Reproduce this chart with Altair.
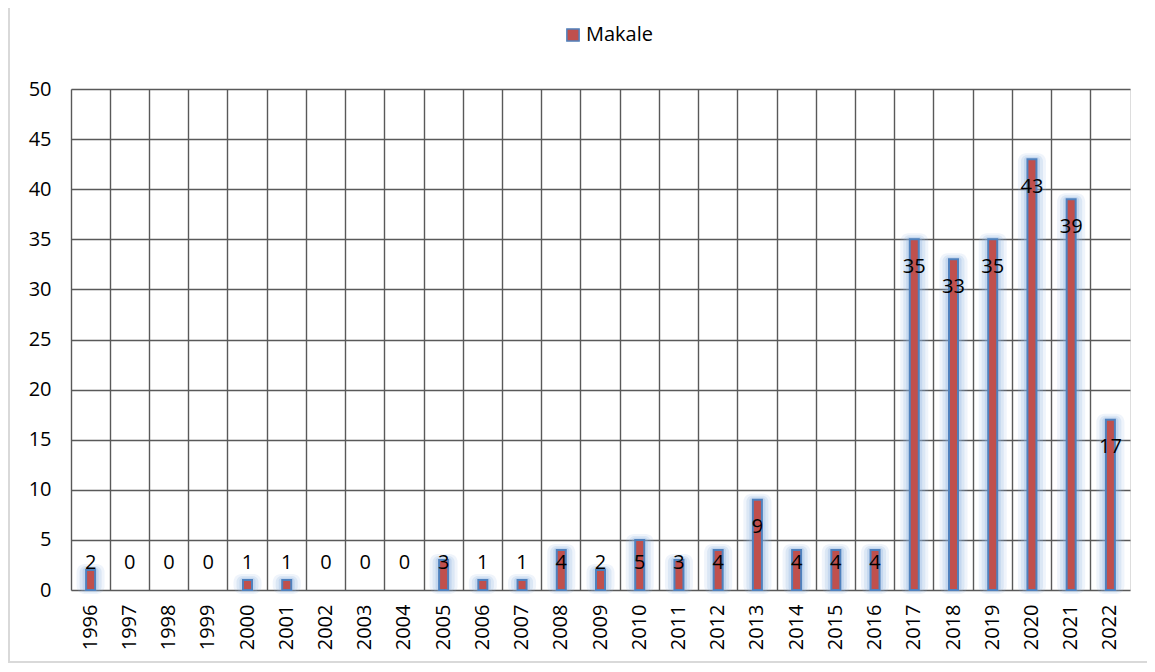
import altair as alt
import pandas as pd

years = [str(y) for y in range(1996, 2023)]
values = [2, 0, 0, 0, 1, 1, 0, 0, 0, 3, 1, 1, 4, 2, 5, 3, 4, 9, 4, 4, 4, 35, 33, 35, 43, 39, 17]
series_name = "Makale"
y_ticks = list(range(0, 51, 5))

df = pd.DataFrame({"year": years, "value": values, "series": series_name})

FONT = "Open Sans"
GRID = "#595959"
RED = "#C0504D"
BLUE = "#4F81BD"
GLOW = "#8DB3E2"
FS = 20

x_enc = alt.X(
    "year:N",
    sort=years,
    scale=alt.Scale(paddingInner=0, paddingOuter=0),
    axis=alt.Axis(
        title=None, labelAngle=-90, labelAlign="right", labelBaseline="middle",
        labelPadding=14, ticks=False, domain=False, grid=True, bandPosition=0,
        gridColor=GRID, gridWidth=1.4, labelFont=FONT, labelFontSize=FS,
        labelColor="#000000",
    ),
)
y_scale = alt.Scale(domain=[0, 50], nice=False)
y_axis = alt.Axis(
    title=None, values=y_ticks, ticks=False, domain=False, grid=True,
    gridColor=GRID, gridWidth=1.4, labelPadding=20, labelFont=FONT,
    labelFontSize=FS, labelColor="#000000",
)

base = alt.Chart(df)
nz = base.transform_filter("datum.value > 0")

glow1 = nz.transform_calculate(top="datum.value + 0.6").mark_bar(
    size=28, color=GLOW, opacity=0.14, cornerRadius=8
).encode(x=x_enc, y=alt.Y("top:Q", scale=y_scale, axis=y_axis), y2=alt.datum(-0.4))
glow2 = nz.transform_calculate(top="datum.value + 0.4").mark_bar(
    size=22, color=GLOW, opacity=0.2, cornerRadius=6
).encode(x=x_enc, y=alt.Y("top:Q", scale=y_scale, axis=y_axis), y2=alt.datum(-0.25))
glow3 = nz.transform_calculate(top="datum.value + 0.22").mark_bar(
    size=16, color=GLOW, opacity=0.3, cornerRadius=3
).encode(x=x_enc, y=alt.Y("top:Q", scale=y_scale, axis=y_axis), y2=alt.datum(-0.08))

bars = nz.mark_bar(size=9, stroke=BLUE, strokeWidth=2).encode(
    x=x_enc,
    y=alt.Y("value:Q", scale=y_scale, axis=y_axis),
    color=alt.Color(
        "series:N",
        scale=alt.Scale(domain=[series_name], range=[RED]),
        legend=alt.Legend(
            title=None, orient="none", legendX=492, legendY=-64,
            symbolType="square", symbolSize=150, symbolStrokeColor=BLUE,
            symbolStrokeWidth=1.5, labelFont=FONT, labelFontSize=FS,
            labelColor="#000000", padding=0, labelOffset=3,
        ),
    ),
)

labels = base.transform_calculate(
    lpos="max(datum.value - 2.75, 2.65)"
).mark_text(font=FONT, fontSize=FS, color="#000000", baseline="middle", align="center").encode(
    x=x_enc,
    y=alt.Y("lpos:Q", scale=y_scale, axis=y_axis),
    text=alt.Text("value:Q"),
)

border = alt.Chart(pd.DataFrame({"a": [0]})).mark_rect(
    fill=None, stroke="#D9D9D9", strokeWidth=2, clip=False
).encode(
    x=alt.value(-62), x2=alt.value(1200), y=alt.value(-200), y2=alt.value(573)
)

chart = alt.layer(border, glow1, glow2, glow3, bars, labels).properties(
    width=1059, height=501,
    autosize=alt.AutoSizeParams(type="none"),
    padding={"left": 63, "top": 81, "right": 17, "bottom": 74},
).configure_view(stroke=GRID, strokeWidth=1.4).configure(background="#FFFFFF")

chart.save("out.html", embed_options={"renderer": "svg", "actions": False})
